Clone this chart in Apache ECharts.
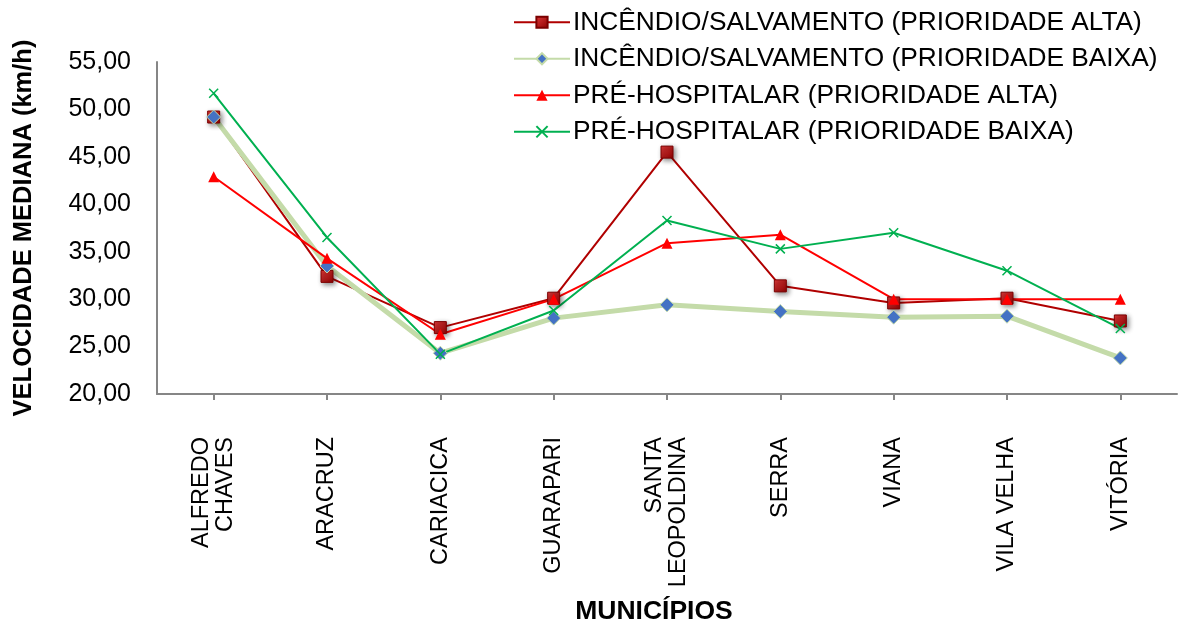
<!DOCTYPE html>
<html>
<head>
<meta charset="utf-8">
<script src="https://cdn.jsdelivr.net/npm/echarts@6/dist/echarts.min.js"></script>
<style>
  html, body { margin: 0; padding: 0; background: #ffffff; }
  #chart { width: 1178px; height: 630px; }
</style>
</head>
<body>
<div id="chart"></div>
<script>
// Municípios (categorias do eixo X)
const municipios = ['ALFREDO\nCHAVES', 'ARACRUZ', 'CARIACICA', 'GUARAPARI', 'SANTA\nLEOPOLDINA', 'SERRA', 'VIANA', 'VILA VELHA', 'VITÓRIA'];

// Velocidade mediana (km/h) por série
const incendioAlta  = [49.2, 32.4, 27.0, 30.1, 45.5, 31.4, 29.6, 30.1, 27.7];
const incendioBaixa = [49.2, 33.5, 24.3, 28.0, 29.4, 28.7, 28.1, 28.2, 23.8];
const preHospAlta   = [42.9, 34.3, 26.3, 30.0, 35.9, 36.8, 30.0, 30.0, 30.0];
const preHospBaixa  = [51.7, 36.5, 24.2, 28.8, 38.3, 35.3, 37.0, 33.0, 26.9];

const nomesSeries = [
  'INCÊNDIO/SALVAMENTO (PRIORIDADE ALTA)',
  'INCÊNDIO/SALVAMENTO (PRIORIDADE BAIXA)',
  'PRÉ-HOSPITALAR (PRIORIDADE ALTA)',
  'PRÉ-HOSPITALAR (PRIORIDADE BAIXA)'
];

// Eixo Y
const yMin = 20, yMax = 55, yPasso = 5;

const FONTE = '"Liberation Sans", Arial, sans-serif';
const CINZA_EIXO = '#868686';

const chart = echarts.init(document.getElementById('chart'), null, { renderer: 'canvas' });

const option = {
  backgroundColor: '#ffffff',
  animation: false,
  textStyle: { fontFamily: FONTE, color: '#000' },
  grid: { left: 157, right: 1, top: 62, bottom: 233, containLabel: false },
  legend: {
    orient: 'vertical',
    left: 508,
    top: 2,
    itemWidth: 56,
    itemHeight: 14,
    itemGap: 6,
    textStyle: { fontFamily: FONTE, fontSize: 26.3, color: '#000', lineHeight: 30.5, padding: [0, 0, 0, -2] },
    data: nomesSeries
  },
  xAxis: {
    type: 'category',
    data: municipios,
    boundaryGap: true,
    name: 'MUNICÍPIOS',
    nameLocation: 'middle',
    nameGap: 204,
    nameTextStyle: {
      fontFamily: FONTE, fontSize: 26.5, fontWeight: 'bold', color: '#000',
      verticalAlign: 'top', padding: [0, 26, 0, 0]
    },
    axisLine: { show: true, lineStyle: { color: CINZA_EIXO, width: 2 } },
    axisTick: { show: true, alignWithLabel: true, length: 6, lineStyle: { color: CINZA_EIXO, width: 2 } },
    axisLabel: {
      rotate: 90,
      margin: 43,
      interval: 0,
      fontFamily: FONTE,
      fontSize: 23.5,
      lineHeight: 24,
      color: '#000'
    },
    splitLine: { show: false }
  },
  yAxis: {
    type: 'value',
    min: yMin,
    max: yMax,
    interval: yPasso,
    name: 'VELOCIDADE MEDIANA (km/h)',
    nameLocation: 'middle',
    nameGap: 120,
    nameTextStyle: { fontFamily: FONTE, fontSize: 25.5, fontWeight: 'bold', color: '#000' },
    axisLine: { show: true, lineStyle: { color: CINZA_EIXO, width: 2 } },
    axisTick: { show: false },
    splitLine: { show: false },
    axisLabel: {
      margin: 26,
      fontFamily: FONTE,
      fontSize: 25,
      color: '#000',
      formatter: v => v.toFixed(2).replace('.', ',')
    }
  },
  series: [
    {
      name: nomesSeries[0],
      type: 'line',
      data: incendioAlta,
      symbol: 'rect',
      symbolSize: 12,
      lineStyle: { color: '#B00000', width: 2 },
      itemStyle: {
        color: new echarts.graphic.LinearGradient(0, 0, 1, 1, [
          { offset: 0, color: '#E03A3A' },
          { offset: 1, color: '#8A0000' }
        ]),
        borderColor: '#7A0000',
        borderWidth: 1,
        shadowBlur: 5,
        shadowColor: 'rgba(0,0,0,0.45)',
        shadowOffsetX: 2,
        shadowOffsetY: 2
      },
      z: 2
    },
    {
      name: nomesSeries[1],
      type: 'line',
      data: incendioBaixa,
      symbol: 'diamond',
      symbolSize: 14,
      lineStyle: { color: '#C4DBA9', width: 5 },
      itemStyle: { color: '#4472C4', borderColor: '#C4DBA9', borderWidth: 1 },
      z: 2
    },
    {
      name: nomesSeries[2],
      type: 'line',
      data: preHospAlta,
      symbol: 'triangle',
      symbolSize: 11,
      lineStyle: { color: '#FF0000', width: 2 },
      itemStyle: { color: '#FF0000' },
      z: 2
    },
    {
      name: nomesSeries[3],
      type: 'line',
      data: preHospBaixa,
      symbol: 'path://M0,0L10,10M10,0L0,10',
      symbolSize: 9,
      lineStyle: { color: '#00B050', width: 2 },
      itemStyle: { color: 'rgba(0,0,0,0)', borderColor: '#00B050', borderWidth: 1.5 },
      z: 2
    }
  ]
};

chart.setOption(option);
</script>
</body>
</html>
